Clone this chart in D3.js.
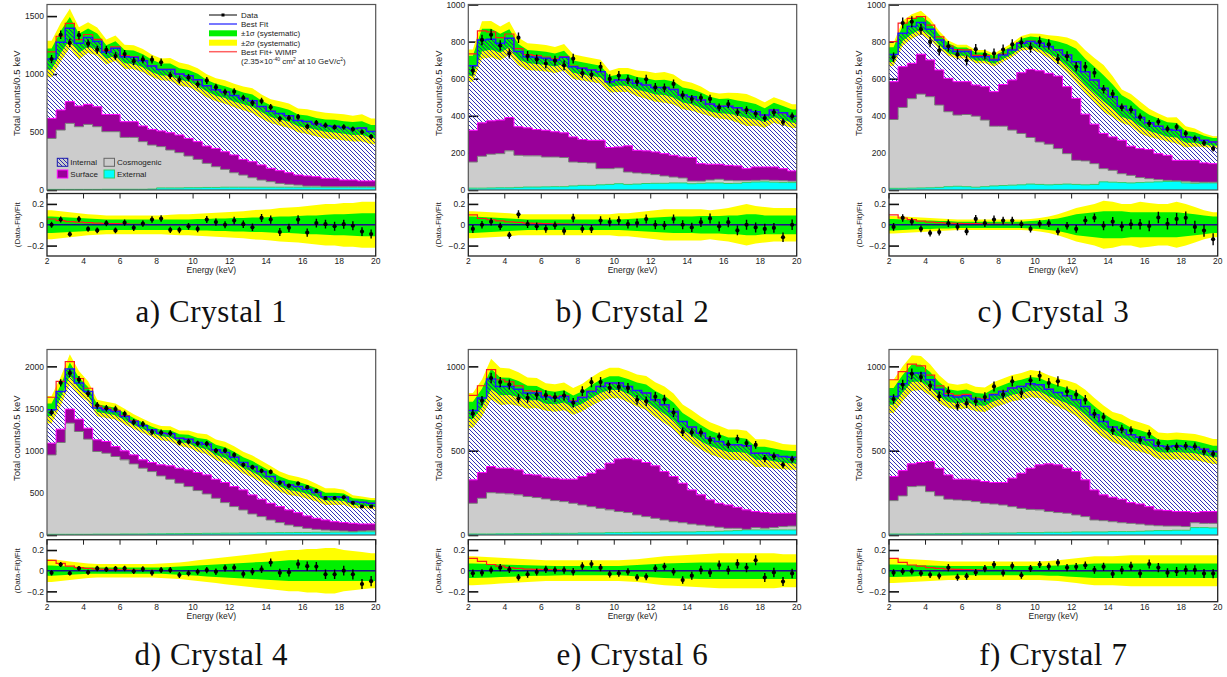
<!DOCTYPE html>
<html lang="en">

<head>
    <meta charset="UTF-8">
    <title>Crystal fits</title>
    <style>
        body {
            margin: 0;
            background: #fff;
        }

        svg {
            display: block;
        }

        text {
            font-family: "Liberation Sans", Arial, sans-serif;
            fill: #222;
        }
    </style>
    <script src="https://d3js.org/d3.v7.min.js"></script>
</head>

<body>
    <svg width="1227" height="677"></svg>

    <script>
        // energy bins, keV
        const binEdges = [2, 2.5, 3, 3.5, 4, 4.5, 5, 5.5, 6, 6.5, 7, 7.5, 8, 8.5, 9, 9.5, 10, 10.5, 11, 11.5, 12,
            12.5, 13, 13.5, 14, 14.5, 15, 15.5, 16, 16.5, 17, 17.5, 18, 18.5, 19, 19.5, 20];
        const xTicks = [2, 4, 6, 8, 10, 12, 14, 16, 18, 20];
        const resTicks = [-0.2, 0, 0.2];
        const captions = ['a) Crystal 1', 'b) Crystal 2', 'c) Crystal 3', 'd) Crystal 4', 'e) Crystal 6', 'f) Crystal 7'];
        const legendLabels = ['Data', 'Best Fit', '\u00b11\u03c3 (systematic)', '\u00b12\u03c3 (systematic)', 'Best Fit+ WIMP'];
        const componentLabels = ['Internal', 'Cosmogenic', 'Surface', 'External'];

        // stacked tops (counts / 0.5 keV): external, +cosmogenic, +surface, best fit (= +internal)
        // Crystal 1
        const c1YTicks = [0, 500, 1000, 1500];
        const c1ExtTop = [5, 5, 5, 5, 5, 5, 6, 6, 6, 6, 6, 8, 18, 18, 18, 20, 20, 22, 22, 24, 24, 24, 24, 24, 24, 24, 24, 24, 24, 24, 24, 24, 24, 24, 24, 24];
        const c1CosmoTop = [445, 517, 575, 546, 566, 546, 503, 503, 454, 454, 417, 388, 374, 345, 322, 293, 264, 230, 201, 178, 149, 129, 106, 86, 72, 57, 49, 43, 34, 34, 29, 29, 29, 29, 29, 29];
        const c1SurfTop = [618, 690, 762, 724, 739, 718, 652, 652, 589, 589, 552, 523, 509, 494, 474, 445, 417, 379, 359, 330, 302, 264, 244, 216, 187, 167, 149, 129, 121, 115, 101, 101, 86, 86, 78, 78];
        const c1Fit = [1130, 1275, 1395, 1265, 1315, 1280, 1190, 1222, 1150, 1145, 1115, 1070, 1040, 1040, 1000, 985, 950, 900, 865, 845, 815, 790, 770, 720, 680, 660, 640, 600, 590, 570, 555, 550, 540, 530, 535, 505];
        const c1Data = [1130, 1339, 1269, 1335, 1262, 1210, 1208, 1155, 1173, 1111, 1126, 1124, 1102, 988, 950, 970, 912, 945, 887, 845, 848, 794, 751, 767, 714, 614, 621, 630, 546, 579, 558, 542, 543, 525, 500, 460];
        const c1Wimp = [0.055, 0.04, 0.03, 0.025, 0.02, 0.015, 0.012, 0.01, 0.008, 0.005, 0.003, 0.002, 0, 0, 0, 0, 0, 0, 0, 0, 0, 0, 0, 0, 0, 0, 0, 0, 0, 0, 0, 0, 0, 0, 0, 0];
        const c1Sig1 = [0.08, 0.075, 0.07, 0.065, 0.06, 0.055, 0.05, 0.05, 0.05, 0.05, 0.05, 0.05, 0.05, 0.05, 0.05, 0.05, 0.055, 0.055, 0.06, 0.06, 0.065, 0.065, 0.07, 0.07, 0.075, 0.08, 0.08, 0.085, 0.09, 0.09, 0.095, 0.1, 0.1, 0.105, 0.11, 0.11];
        const c1Sig2 = [0.14, 0.13, 0.12, 0.11, 0.1, 0.095, 0.09, 0.09, 0.09, 0.09, 0.09, 0.09, 0.09, 0.095, 0.1, 0.1, 0.105, 0.11, 0.115, 0.12, 0.125, 0.13, 0.14, 0.145, 0.15, 0.16, 0.165, 0.17, 0.18, 0.19, 0.2, 0.2, 0.21, 0.21, 0.22, 0.22];

        // Crystal 2
        const c2YTicks = [0, 200, 400, 600, 800, 1000];
        const c2ExtTop = [10, 10, 11, 12, 12, 14, 16, 16, 17, 18, 18, 22, 25, 25, 28, 30, 34, 30, 32, 35, 36, 36, 38, 38, 34, 36, 38, 38, 35, 36, 40, 43, 44, 42, 40, 40];
        const c2CosmoTop = [151, 182, 193, 196, 211, 187, 184, 184, 178, 178, 175, 151, 148, 146, 115, 115, 119, 97, 92, 88, 83, 76, 70, 65, 48, 48, 54, 58, 52, 50, 50, 52, 54, 52, 50, 48];
        const c2SurfTop = [322, 362, 373, 377, 391, 341, 335, 326, 322, 314, 308, 286, 272, 268, 268, 229, 232, 238, 214, 211, 205, 196, 187, 178, 175, 142, 139, 139, 133, 130, 115, 124, 124, 124, 115, 103];
        const c2Fit = [670, 809, 813, 791, 818, 746, 719, 715, 710, 701, 715, 665, 656, 647, 638, 584, 593, 593, 575, 566, 553, 553, 542, 512, 503, 485, 463, 452, 452, 443, 431, 422, 404, 431, 416, 398];
        const c2Data = [643, 809, 837, 779, 736, 821, 723, 704, 682, 697, 672, 708, 630, 621, 664, 599, 617, 596, 584, 597, 553, 550, 572, 512, 490, 497, 491, 445, 463, 419, 431, 411, 388, 418, 366, 398];
        const c2Wimp = [0.095, 0.06, 0.048, 0.038, 0.028, 0.022, 0.016, 0.013, 0.01, 0.008, 0.006, 0.004, 0.003, 0.002, 0, 0, 0, 0, 0, 0, 0, 0, 0, 0, 0, 0, 0, 0, 0, 0, 0, 0, 0, 0, 0, 0];
        const c2Sig1 = [0.08, 0.075, 0.07, 0.065, 0.06, 0.055, 0.05, 0.05, 0.05, 0.05, 0.05, 0.05, 0.05, 0.05, 0.05, 0.05, 0.05, 0.055, 0.06, 0.065, 0.07, 0.075, 0.08, 0.08, 0.08, 0.085, 0.085, 0.085, 0.09, 0.09, 0.1, 0.1, 0.09, 0.09, 0.09, 0.09];
        const c2Sig2 = [0.13, 0.125, 0.12, 0.115, 0.11, 0.1, 0.1, 0.1, 0.1, 0.1, 0.1, 0.1, 0.1, 0.1, 0.1, 0.1, 0.11, 0.11, 0.12, 0.13, 0.14, 0.15, 0.15, 0.15, 0.15, 0.15, 0.14, 0.15, 0.16, 0.18, 0.2, 0.18, 0.17, 0.16, 0.16, 0.16];

        // Crystal 3
        const c3YTicks = [0, 200, 400, 600, 800, 1000];
        const c3ExtTop = [9, 9, 10, 11, 12, 14, 18, 20, 18, 15, 18, 22, 24, 26, 28, 32, 30, 28, 30, 32, 30, 28, 30, 44, 42, 40, 38, 40, 42, 44, 46, 48, 38, 36, 38, 38];
        const c3CosmoTop = [380, 445, 492, 517, 503, 458, 422, 404, 407, 398, 377, 344, 344, 323, 305, 283, 259, 247, 223, 196, 160, 157, 142, 115, 106, 88, 79, 67, 61, 56, 52, 49, 47, 43, 42, 42];
        const c3SurfTop = [584, 665, 683, 732, 701, 647, 602, 584, 584, 566, 557, 530, 569, 593, 632, 650, 643, 629, 614, 557, 494, 409, 355, 305, 286, 268, 236, 223, 218, 196, 187, 160, 160, 160, 146, 142];
        const c3Fit = [730, 845, 881, 903, 867, 809, 764, 746, 746, 719, 719, 701, 728, 755, 791, 800, 791, 773, 755, 728, 692, 638, 593, 548, 503, 452, 431, 391, 362, 344, 326, 322, 286, 283, 268, 259];
        const c3Data = [715, 900, 907, 867, 798, 752, 775, 731, 698, 759, 730, 736, 757, 785, 795, 768, 799, 785, 706, 721, 664, 664, 632, 543, 518, 445, 433, 393, 358, 368, 329, 340, 305, 277, 253, 223];
        const c3Wimp = [0.095, 0.065, 0.05, 0.035, 0.025, 0.02, 0.016, 0.014, 0.012, 0.01, 0.008, 0.007, 0.006, 0.005, 0.004, 0.003, 0.002, 0, 0, 0, 0, 0, 0, 0, 0, 0, 0, 0, 0, 0, 0, 0, 0, 0, 0, 0];
        const c3Sig1 = [0.055, 0.05, 0.045, 0.04, 0.04, 0.035, 0.035, 0.03, 0.03, 0.03, 0.03, 0.03, 0.03, 0.03, 0.03, 0.035, 0.04, 0.05, 0.06, 0.08, 0.1, 0.11, 0.12, 0.13, 0.13, 0.13, 0.12, 0.12, 0.12, 0.12, 0.12, 0.12, 0.11, 0.1, 0.09, 0.08];
        const c3Sig2 = [0.085, 0.08, 0.075, 0.07, 0.065, 0.06, 0.055, 0.05, 0.05, 0.05, 0.05, 0.05, 0.05, 0.05, 0.05, 0.055, 0.065, 0.08, 0.1, 0.13, 0.16, 0.18, 0.2, 0.23, 0.22, 0.2, 0.2, 0.22, 0.21, 0.2, 0.2, 0.22, 0.2, 0.17, 0.14, 0.12];

        // Crystal 4
        const c4YTicks = [0, 500, 1000, 1500, 2000];
        const c4ExtTop = [8, 8, 8, 8, 8, 10, 10, 10, 12, 12, 12, 14, 14, 16, 16, 18, 18, 20, 20, 22, 22, 24, 24, 26, 26, 28, 28, 30, 30, 32, 32, 34, 34, 36, 38, 38];
        const c4CosmoTop = [950, 1097, 1327, 1228, 1137, 990, 970, 931, 891, 843, 792, 752, 701, 661, 614, 574, 527, 487, 436, 384, 337, 297, 250, 218, 178, 147, 119, 99, 79, 67, 59, 51, 48, 40, 48, 51];
        const c4SurfTop = [1089, 1255, 1493, 1374, 1267, 1129, 1109, 1049, 998, 950, 891, 859, 832, 820, 792, 772, 741, 713, 661, 622, 574, 535, 475, 424, 376, 337, 297, 265, 226, 198, 178, 158, 147, 139, 131, 131];
        const c4Fit = [1485, 1703, 1968, 1802, 1703, 1505, 1485, 1465, 1406, 1346, 1295, 1247, 1208, 1200, 1148, 1137, 1097, 1077, 1010, 978, 923, 859, 812, 752, 693, 634, 594, 574, 543, 503, 455, 455, 447, 396, 388, 376];
        const c4Data = [1455, 1805, 1919, 1842, 1677, 1538, 1504, 1494, 1437, 1338, 1316, 1222, 1215, 1207, 1100, 1109, 1086, 1083, 1000, 1003, 950, 832, 804, 762, 748, 621, 585, 611, 567, 523, 439, 439, 447, 382, 338, 338];
        const c4Wimp = [0.1, 0.07, 0.045, 0.03, 0.022, 0.016, 0.012, 0.01, 0.008, 0.006, 0.004, 0.003, 0.002, 0, 0, 0, 0, 0, 0, 0, 0, 0, 0, 0, 0, 0, 0, 0, 0, 0, 0, 0, 0, 0, 0, 0];
        const c4Sig1 = [0.05, 0.045, 0.04, 0.035, 0.03, 0.03, 0.03, 0.03, 0.03, 0.03, 0.03, 0.03, 0.03, 0.035, 0.04, 0.045, 0.05, 0.055, 0.06, 0.065, 0.07, 0.075, 0.08, 0.085, 0.09, 0.095, 0.1, 0.1, 0.1, 0.1, 0.1, 0.1, 0.1, 0.1, 0.1, 0.1];
        const c4Sig2 = [0.11, 0.1, 0.09, 0.08, 0.07, 0.065, 0.065, 0.065, 0.065, 0.065, 0.065, 0.065, 0.07, 0.075, 0.08, 0.09, 0.1, 0.11, 0.12, 0.13, 0.14, 0.15, 0.16, 0.17, 0.18, 0.19, 0.2, 0.2, 0.21, 0.21, 0.22, 0.22, 0.2, 0.19, 0.18, 0.17];

        // Crystal 6
        const c6YTicks = [0, 500, 1000];
        const c6ExtTop = [6, 6, 6, 7, 7, 8, 8, 8, 10, 10, 10, 10, 12, 12, 12, 14, 14, 14, 16, 16, 16, 18, 18, 18, 18, 20, 20, 22, 24, 26, 30, 30, 30, 30, 30, 30];
        const c6CosmoTop = [188, 218, 251, 248, 244, 238, 228, 222, 214, 204, 198, 188, 178, 168, 158, 149, 139, 133, 119, 109, 99, 89, 79, 73, 65, 59, 53, 46, 40, 40, 34, 44, 40, 44, 50, 53];
        const c6SurfTop = [327, 370, 406, 396, 396, 386, 360, 356, 343, 337, 331, 331, 347, 366, 390, 426, 451, 455, 446, 430, 410, 376, 347, 307, 267, 238, 208, 188, 178, 164, 149, 139, 133, 129, 129, 129];
        const c6Fit = [739, 812, 925, 881, 881, 865, 842, 842, 818, 812, 822, 792, 816, 851, 881, 901, 901, 881, 857, 842, 802, 772, 733, 673, 640, 604, 574, 554, 535, 535, 529, 485, 485, 475, 465, 461];
        const c6Data = [720, 796, 931, 907, 892, 809, 813, 831, 829, 817, 827, 784, 853, 906, 907, 872, 878, 872, 801, 793, 820, 803, 726, 612, 609, 608, 563, 584, 538, 570, 545, 534, 453, 467, 416, 449];
        const c6Wimp = [0.12, 0.09, 0.06, 0.045, 0.03, 0.022, 0.016, 0.012, 0.01, 0.008, 0.006, 0.004, 0.003, 0.002, 0, 0, 0, 0, 0, 0, 0, 0, 0, 0, 0, 0, 0, 0, 0, 0, 0, 0, 0, 0, 0, 0];
        const c6Sig1 = [0.07, 0.068, 0.065, 0.06, 0.058, 0.055, 0.052, 0.05, 0.048, 0.046, 0.045, 0.045, 0.045, 0.045, 0.045, 0.045, 0.045, 0.05, 0.055, 0.06, 0.065, 0.07, 0.072, 0.075, 0.078, 0.08, 0.08, 0.08, 0.08, 0.08, 0.08, 0.08, 0.08, 0.08, 0.08, 0.08];
        const c6Sig2 = [0.14, 0.135, 0.13, 0.125, 0.12, 0.115, 0.11, 0.105, 0.1, 0.1, 0.1, 0.1, 0.1, 0.1, 0.1, 0.1, 0.1, 0.105, 0.11, 0.12, 0.13, 0.14, 0.145, 0.15, 0.155, 0.16, 0.165, 0.17, 0.17, 0.17, 0.17, 0.17, 0.17, 0.17, 0.16, 0.16];

        // Crystal 7
        const c7YTicks = [0, 500, 1000];
        const c7ExtTop = [6, 6, 6, 7, 7, 8, 8, 8, 10, 10, 10, 12, 12, 12, 14, 14, 14, 16, 16, 16, 18, 18, 18, 18, 20, 20, 20, 22, 24, 26, 26, 28, 28, 44, 44, 42];
        const c7CosmoTop = [204, 232, 287, 291, 257, 232, 212, 208, 204, 198, 188, 184, 178, 168, 158, 152, 149, 139, 133, 129, 119, 109, 89, 85, 79, 73, 69, 65, 59, 55, 53, 53, 50, 73, 69, 69];
        const c7SurfTop = [347, 382, 422, 430, 436, 396, 356, 331, 331, 327, 317, 311, 311, 337, 366, 396, 416, 422, 416, 396, 376, 327, 267, 238, 224, 212, 192, 184, 168, 149, 145, 139, 139, 133, 139, 139];
        const c7Fit = [822, 897, 960, 960, 921, 865, 826, 818, 826, 806, 802, 832, 851, 871, 881, 897, 891, 865, 845, 826, 802, 762, 713, 673, 640, 624, 594, 580, 564, 529, 525, 529, 525, 521, 509, 495];
        const c7Data = [806, 891, 956, 937, 885, 822, 851, 766, 782, 792, 818, 881, 832, 911, 842, 917, 944, 901, 911, 851, 832, 802, 719, 699, 620, 628, 620, 564, 600, 545, 515, 525, 529, 525, 495, 481];
        const c7Wimp = [0.12, 0.08, 0.055, 0.045, 0.03, 0.022, 0.016, 0.012, 0.01, 0.008, 0.006, 0.004, 0.003, 0.002, 0, 0, 0, 0, 0, 0, 0, 0, 0, 0, 0, 0, 0, 0, 0, 0, 0, 0, 0, 0, 0, 0];
        const c7Sig1 = [0.06, 0.058, 0.055, 0.052, 0.05, 0.048, 0.046, 0.045, 0.045, 0.045, 0.045, 0.045, 0.045, 0.045, 0.045, 0.045, 0.045, 0.048, 0.05, 0.055, 0.06, 0.065, 0.07, 0.07, 0.07, 0.07, 0.07, 0.07, 0.07, 0.07, 0.07, 0.07, 0.07, 0.07, 0.07, 0.07];
        const c7Sig2 = [0.12, 0.115, 0.11, 0.105, 0.1, 0.095, 0.09, 0.09, 0.09, 0.09, 0.09, 0.09, 0.09, 0.09, 0.09, 0.09, 0.09, 0.095, 0.1, 0.11, 0.12, 0.13, 0.14, 0.14, 0.14, 0.145, 0.15, 0.15, 0.15, 0.15, 0.15, 0.15, 0.15, 0.15, 0.15, 0.15];

        const panels = [
            { yMax: 1600, yTicks: c1YTicks, ext: c1ExtTop, cosmo: c1CosmoTop, surf: c1SurfTop, fit: c1Fit, data: c1Data, wimp: c1Wimp, sig1: c1Sig1, sig2: c1Sig2 },
            { yMax: 1000, yTicks: c2YTicks, ext: c2ExtTop, cosmo: c2CosmoTop, surf: c2SurfTop, fit: c2Fit, data: c2Data, wimp: c2Wimp, sig1: c2Sig1, sig2: c2Sig2 },
            { yMax: 1000, yTicks: c3YTicks, ext: c3ExtTop, cosmo: c3CosmoTop, surf: c3SurfTop, fit: c3Fit, data: c3Data, wimp: c3Wimp, sig1: c3Sig1, sig2: c3Sig2 },
            { yMax: 2200, yTicks: c4YTicks, ext: c4ExtTop, cosmo: c4CosmoTop, surf: c4SurfTop, fit: c4Fit, data: c4Data, wimp: c4Wimp, sig1: c4Sig1, sig2: c4Sig2 },
            { yMax: 1100, yTicks: c6YTicks, ext: c6ExtTop, cosmo: c6CosmoTop, surf: c6SurfTop, fit: c6Fit, data: c6Data, wimp: c6Wimp, sig1: c6Sig1, sig2: c6Sig2 },
            { yMax: 1100, yTicks: c7YTicks, ext: c7ExtTop, cosmo: c7CosmoTop, surf: c7SurfTop, fit: c7Fit, data: c7Data, wimp: c7Wimp, sig1: c7Sig1, sig2: c7Sig2 }
        ];

        // layout
        const cols = [{ x0: 47, x1: 375.7 }, { x0: 468.3, x1: 796.7 }, { x0: 889, x1: 1217.7 }];
        const rows = [
            { top: 4.5, base: 190, resTop: 193.5, resBot: 256, tickY: 264, titleY: 273, capY: 322 },
            { top: 349.5, base: 535, resTop: 539.7, resBot: 601.7, tickY: 610, titleY: 619, capY: 665 }
        ];

        const colYellow = '#ffff00';
        const colGreen = '#00f000';
        const colFit = '#1a1aff';
        const colWimp = '#ff1a1a';
        const colSurf = '#990099';
        const colCosmo = '#cccccc';
        const colExt = '#00ffff';
        const colFrame = '#555';

        let svg = d3.select('svg');
        let defs = svg.append('defs');

        // diagonal hatch for the internal component
        defs.append('pattern')
            .attr('id', 'hatch')
            .attr('patternUnits', 'userSpaceOnUse')
            .attr('width', 4)
            .attr('height', 4)
            .append('path')
            .attr('d', 'M-1,-1 L5,5 M3,-1 L5,1 M-1,3 L1,5')
            .attr('stroke', '#1b1bb0')
            .attr('stroke-width', 0.9);

        /**
         * stepPoints turns per-bin values into points for a curveStepAfter line
         * */
        function stepPoints(vals) {
            let pts = vals.map((v, i) => ({ e: binEdges[i], v: v }));
            pts.push({ e: binEdges[vals.length], v: vals[vals.length - 1] });
            return pts;
        }

        /**
         * bandPoints gives lo/hi at bin centres, stretched out to the frame edges
         * */
        function bandPoints(centre, sig) {
            let pts = centre.map((c, i) => ({
                e: (binEdges[i] + binEdges[i + 1]) / 2,
                lo: c.lo(sig[i]),
                hi: c.hi(sig[i])
            }));
            pts.unshift(Object.assign({}, pts[0], { e: binEdges[0] }));
            pts.push(Object.assign({}, pts[pts.length - 1], { e: binEdges[binEdges.length - 1] }));
            return pts;
        }

        function drawPanel(p, n) {
            const col = cols[n % 3];
            const row = rows[Math.floor(n / 3)];

            const x = d3.scaleLinear().domain([2, 20]).range([col.x0, col.x1]);
            const y = d3.scaleLinear().domain([0, p.yMax]).range([row.base, row.top]);
            const r = d3.scaleLinear().domain([-0.3, 0.3]).range([row.resBot, row.resTop]);

            defs.append('clipPath').attr('id', 'clipTop' + n)
                .append('rect').attr('x', col.x0).attr('y', row.top).attr('width', col.x1 - col.x0).attr('height', row.base - row.top);
            defs.append('clipPath').attr('id', 'clipRes' + n)
                .append('rect').attr('x', col.x0).attr('y', row.resTop).attr('width', col.x1 - col.x0).attr('height', row.resBot - row.resTop);

            // ---------- upper pad ----------
            let yAxis = svg.append('g')
                .attr('transform', `translate(${col.x0},0)`)
                .call(d3.axisLeft(y).tickValues(p.yTicks).tickSize(-10).tickPadding(3).tickFormat(d3.format('d')));
            yAxis.select('.domain').remove();
            yAxis.attr('font-size', 8.5).attr('font-family', '"Liberation Sans", Arial, sans-serif');
            yAxis.selectAll('line').attr('stroke', '#111').attr('stroke-width', 1.6);
            yAxis.selectAll('text').attr('fill', '#222');

            let top = svg.append('g').attr('clip-path', `url(#clipTop${n})`);

            const band = d3.area().x(d => x(d.e)).y0(d => y(d.lo)).y1(d => y(d.hi));
            const fitBand = p.fit.map(f => ({ lo: s => f * (1 - s), hi: s => f * (1 + s) }));

            top.append('path').attr('d', band(bandPoints(fitBand, p.sig2))).attr('fill', colYellow);
            top.append('path').attr('d', band(bandPoints(fitBand, p.sig1))).attr('fill', colGreen);

            const stepArea = d3.area().curve(d3.curveStepAfter).x(d => x(d.e)).y0(d => y(d.lo)).y1(d => y(d.hi));
            const layer = (lo, hi) => {
                let pts = hi.map((h, i) => ({ e: binEdges[i], lo: lo ? lo[i] : 0, hi: h }));
                pts.push({ e: binEdges[hi.length], lo: pts[pts.length - 1].lo, hi: pts[pts.length - 1].hi });
                return pts;
            };

            top.append('path').attr('d', stepArea(layer(p.surf, p.fit))).attr('fill', 'url(#hatch)');
            top.append('path').attr('d', stepArea(layer(p.cosmo, p.surf))).attr('fill', colSurf);
            top.append('path').attr('d', stepArea(layer(p.ext, p.cosmo))).attr('fill', colCosmo);
            top.append('path').attr('d', stepArea(layer(null, p.ext))).attr('fill', colExt);

            const stepLine = d3.line().curve(d3.curveStepAfter).x(d => x(d.e)).y(d => y(d.v));
            top.append('path').attr('d', stepLine(stepPoints(p.ext))).attr('fill', 'none').attr('stroke', '#3c6').attr('stroke-width', 1);
            top.append('path').attr('d', stepLine(stepPoints(p.cosmo))).attr('fill', 'none').attr('stroke', '#777').attr('stroke-width', 1);
            top.append('path').attr('d', stepLine(stepPoints(p.surf))).attr('fill', 'none').attr('stroke', '#ff00ff').attr('stroke-width', 1);

            const withWimp = p.fit.map((f, i) => f * (1 + p.wimp[i]));
            top.append('path').attr('d', stepLine(stepPoints(withWimp))).attr('fill', 'none').attr('stroke', colWimp).attr('stroke-width', 1.2);
            top.append('path').attr('d', stepLine(stepPoints(p.fit))).attr('fill', 'none').attr('stroke', colFit).attr('stroke-width', 1.5);

            // data points with poisson errors
            let pts = top.selectAll('g.pt')
                .data(p.data)
                .enter().append('g');
            pts.append('line')
                .attr('x1', (d, i) => x((binEdges[i] + binEdges[i + 1]) / 2))
                .attr('x2', (d, i) => x((binEdges[i] + binEdges[i + 1]) / 2))
                .attr('y1', d => y(d - Math.sqrt(d)))
                .attr('y2', d => y(d + Math.sqrt(d)))
                .attr('stroke', '#000').attr('stroke-width', 1.4);
            pts.append('circle')
                .attr('cx', (d, i) => x((binEdges[i] + binEdges[i + 1]) / 2))
                .attr('cy', d => y(d))
                .attr('r', 2.1)
                .attr('fill', '#000');

            svg.append('rect')
                .attr('x', col.x0).attr('y', row.top)
                .attr('width', col.x1 - col.x0).attr('height', row.base - row.top)
                .attr('fill', 'none').attr('stroke', colFrame).attr('stroke-width', 1.2);

            svg.append('text')
                .attr('transform', `translate(${col.x0 - 30},${(row.top + row.base) / 2 - 4}) rotate(-90)`)
                .attr('dy', '0.35em')
                .attr('text-anchor', 'middle')
                .attr('font-size', 9.5)
                .text('Total counts/0.5 keV');

            // ---------- ratio pad ----------
            let rAxis = svg.append('g')
                .attr('transform', `translate(${col.x0},0)`)
                .call(d3.axisLeft(r).tickValues(resTicks).tickSize(-10).tickPadding(3)
                    .tickFormat(d => d === 0 ? '0' : d3.format('.1f')(d)));
            rAxis.select('.domain').remove();
            rAxis.attr('font-size', 8.5).attr('font-family', '"Liberation Sans", Arial, sans-serif');
            rAxis.selectAll('line').attr('stroke', '#111').attr('stroke-width', 1.6);
            rAxis.selectAll('text').attr('fill', '#222');

            let res = svg.append('g').attr('clip-path', `url(#clipRes${n})`);
            const rBand = d3.area().x(d => x(d.e)).y0(d => r(d.lo)).y1(d => r(d.hi));
            const zeroBand = p.fit.map(() => ({ lo: s => -s, hi: s => s }));
            res.append('path').attr('d', rBand(bandPoints(zeroBand, p.sig2))).attr('fill', colYellow);
            res.append('path').attr('d', rBand(bandPoints(zeroBand, p.sig1))).attr('fill', colGreen);

            const rStep = d3.line().curve(d3.curveStepAfter).x(d => x(d.e)).y(d => r(d.v));
            res.append('path').attr('d', rStep(stepPoints(p.wimp))).attr('fill', 'none').attr('stroke', colWimp).attr('stroke-width', 1.2);
            res.append('line')
                .attr('x1', x(2)).attr('x2', x(20)).attr('y1', r(0)).attr('y2', r(0))
                .attr('stroke', '#14148c').attr('stroke-width', 1.6);

            const ratio = p.data.map((d, i) => ({
                e: (binEdges[i] + binEdges[i + 1]) / 2,
                v: (d - p.fit[i]) / p.fit[i],
                err: Math.sqrt(d) / p.fit[i]
            }));
            let rp = res.selectAll('g.rp')
                .data(ratio)
                .enter().append('g');
            rp.append('line')
                .attr('x1', d => x(d.e)).attr('x2', d => x(d.e))
                .attr('y1', d => r(d.v - d.err)).attr('y2', d => r(d.v + d.err))
                .attr('stroke', '#000').attr('stroke-width', 1.4);
            rp.append('circle')
                .attr('cx', d => x(d.e)).attr('cy', d => r(d.v))
                .attr('r', 2.1).attr('fill', '#000');

            svg.append('rect')
                .attr('x', col.x0).attr('y', row.resTop)
                .attr('width', col.x1 - col.x0).attr('height', row.resBot - row.resTop)
                .attr('fill', 'none').attr('stroke', '#222').attr('stroke-width', 1.3);

            svg.append('g').selectAll('line')
                .data(xTicks)
                .enter().append('line')
                .attr('x1', d => x(d)).attr('x2', d => x(d))
                .attr('y1', row.resTop).attr('y2', row.resTop + 5)
                .attr('stroke', '#222').attr('stroke-width', 1);

            svg.append('g').selectAll('text')
                .data(xTicks)
                .enter().append('text')
                .attr('x', d => x(d))
                .attr('y', row.tickY)
                .attr('text-anchor', 'middle')
                .attr('font-size', 8.5)
                .text(d => d);

            svg.append('text')
                .attr('x', (col.x0 + col.x1) / 2)
                .attr('y', row.titleY)
                .attr('text-anchor', 'middle')
                .attr('font-size', 8.5)
                .text('Energy (keV)');

            svg.append('text')
                .attr('transform', `translate(${col.x0 - 30},${(row.resTop + row.resBot) / 2}) rotate(-90)`)
                .attr('dy', '0.35em')
                .attr('text-anchor', 'middle')
                .attr('font-size', 8)
                .text('(Data-Fit)/Fit');

            svg.append('text')
                .attr('x', (col.x0 + col.x1) / 2)
                .attr('y', row.capY)
                .attr('text-anchor', 'middle')
                .attr('font-size', 31)
                .attr('letter-spacing', 0.6)
                .style('font-family', '"Liberation Serif", "DejaVu Serif", serif')
                .style('fill', '#111')
                .text(captions[n]);
        }

        panels.forEach((p, n) => drawPanel(p, n));

        // ---------- legend (crystal 1) ----------
        let leg = svg.append('g');
        let legX = 209;
        let legW = 28;
        let legRows = [15, 24, 33.3, 42.7, 51.7];

        leg.append('line').attr('x1', legX).attr('x2', legX + legW).attr('y1', legRows[0]).attr('y2', legRows[0])
            .attr('stroke', '#000').attr('stroke-width', 1);
        leg.append('rect').attr('x', legX + legW / 2 - 1.5).attr('y', legRows[0] - 1.5).attr('width', 3).attr('height', 3).attr('fill', '#000');
        leg.append('line').attr('x1', legX).attr('x2', legX + legW).attr('y1', legRows[1]).attr('y2', legRows[1])
            .attr('stroke', '#4a4aff').attr('stroke-width', 1.5);
        leg.append('rect').attr('x', legX).attr('y', legRows[2] - 3).attr('width', legW).attr('height', 6).attr('fill', colGreen);
        leg.append('rect').attr('x', legX).attr('y', legRows[3] - 3).attr('width', legW).attr('height', 6).attr('fill', colYellow);
        leg.append('line').attr('x1', legX).attr('x2', legX + legW).attr('y1', legRows[4]).attr('y2', legRows[4])
            .attr('stroke', '#ff6060').attr('stroke-width', 1.5);

        leg.selectAll('text.lab')
            .data(legendLabels)
            .enter().append('text')
            .attr('x', legX + legW + 4)
            .attr('y', (d, i) => legRows[i])
            .attr('dy', '0.35em')
            .attr('font-size', 8)
            .text(d => d);

        let wimpNote = leg.append('text')
            .attr('x', legX + legW + 4)
            .attr('y', 61.3)
            .attr('dy', '0.35em')
            .attr('font-size', 8);
        wimpNote.append('tspan').text('(2.35\u00d710');
        wimpNote.append('tspan').attr('dy', '-3').attr('font-size', 5).text('-40');
        wimpNote.append('tspan').attr('dy', '3').text(' cm');
        wimpNote.append('tspan').attr('dy', '-3').attr('font-size', 5).text('2');
        wimpNote.append('tspan').attr('dy', '3').text(' at 10 GeV/c');
        wimpNote.append('tspan').attr('dy', '-3').attr('font-size', 5).text('2');
        wimpNote.append('tspan').attr('dy', '3').text(')');

        // component boxes
        let comp = svg.append('g');
        let compBoxes = [
            { x: 57.3, y: 158.3, fill: 'url(#hatch)', stroke: '#1b1bb0' },
            { x: 104, y: 158.3, fill: colCosmo, stroke: '#666' },
            { x: 57.3, y: 170, fill: colSurf, stroke: '#ff00ff' },
            { x: 104, y: 170, fill: colExt, stroke: '#3c6' }
        ];
        comp.selectAll('rect')
            .data(compBoxes)
            .enter().append('rect')
            .attr('x', d => d.x).attr('y', d => d.y)
            .attr('width', 10.5).attr('height', 8)
            .attr('fill', d => d.fill)
            .attr('stroke', d => d.stroke)
            .attr('stroke-width', 1);
        comp.selectAll('text')
            .data(componentLabels)
            .enter().append('text')
            .attr('x', (d, i) => compBoxes[i].x + 13)
            .attr('y', (d, i) => compBoxes[i].y + 4)
            .attr('dy', '0.35em')
            .attr('font-size', 8)
            .text(d => d);
    </script>
</body>

</html>
